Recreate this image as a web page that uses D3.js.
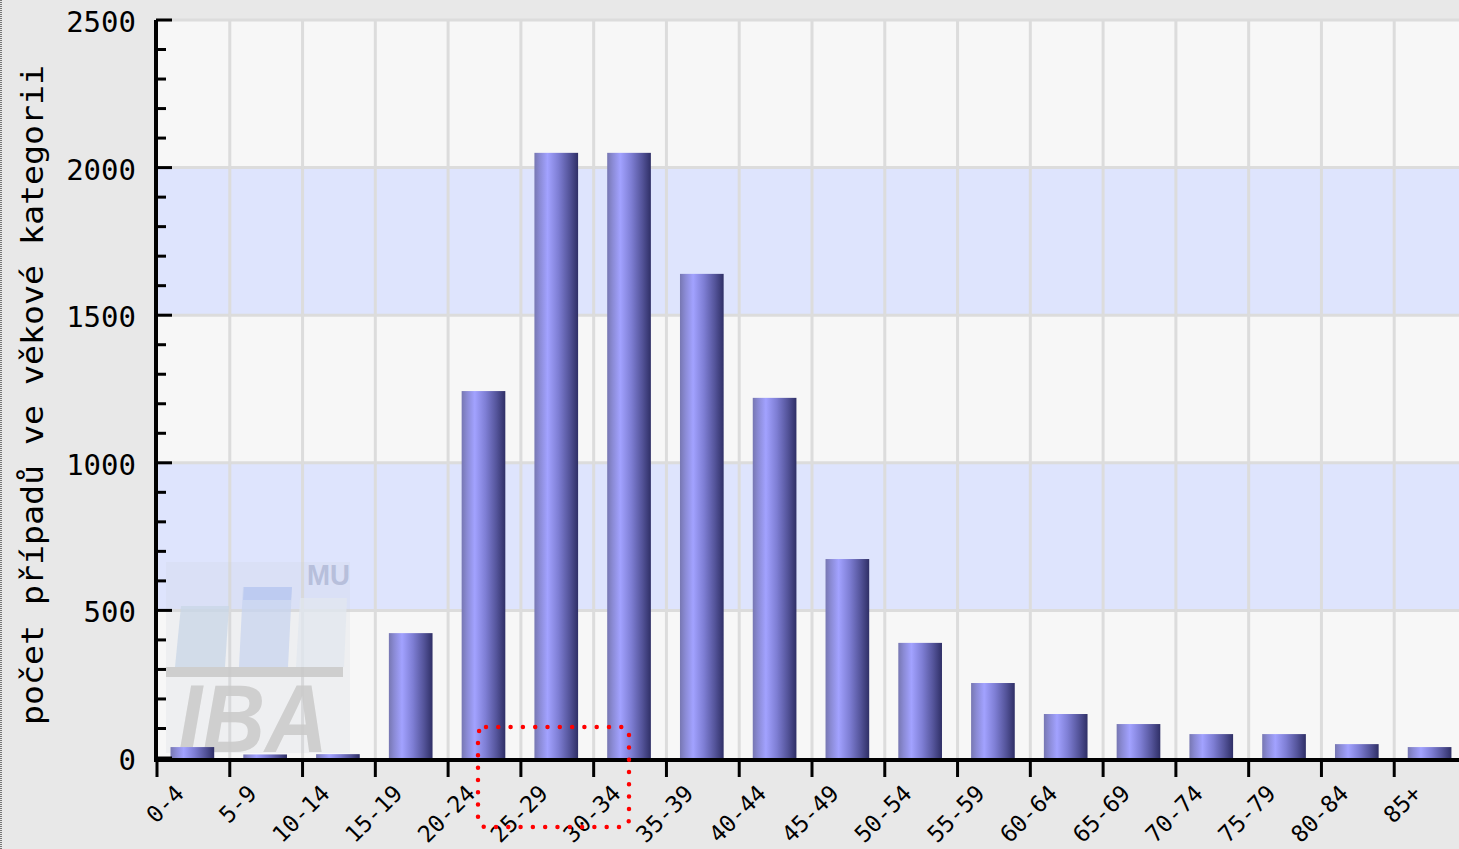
<!DOCTYPE html>
<html>
<head>
<meta charset="utf-8">
<script src="https://cdn.jsdelivr.net/npm/d3@7/dist/d3.min.js"></script>
<style>
  html, body { margin: 0; padding: 0; background: #e8e8e8; }
  svg { display: block; }
</style>
</head>
<body>
<svg id="chart" width="1459" height="849"></svg>
<script>
const categories = ["0-4","5-9","10-14","15-19","20-24","25-29","30-34","35-39","40-44","45-49","50-54","55-59","60-64","65-69","70-74","75-79","80-84","85+"];
const values = [37, 12, 13, 423, 1243, 2050, 2050, 1640, 1220, 674, 390, 254, 149, 115, 81, 81, 47, 37];
const yTicks = [0, 500, 1000, 1500, 2000, 2500];
const yMinorTicks = d3.range(0, 2501, 100);
const yTitle = "počet případů ve věkové kategorii";

(function () {
const svg = d3.select("#chart");
const W = 1459, H = 849;
const pLeft = 157, pTop = 20, pBottom = 758, pRight = 1467;

svg.append("rect").attr("width", W).attr("height", H).attr("fill", "#e8e8e8");
svg.append("line").attr("x1", 1).attr("x2", 1).attr("y1", 0).attr("y2", H)
  .attr("stroke", "#777").attr("stroke-width", 2).attr("stroke-dasharray", "1 1");

const x = d3.scaleBand().domain(categories).range([pLeft, pRight]).padding(0);
const y = d3.scaleLinear().domain([0, 2500]).range([pBottom, pTop]);

const defs = svg.append("defs");
const grad = defs.append("linearGradient").attr("id", "barGrad")
  .attr("x1", "0%").attr("x2", "100%").attr("y1", "0%").attr("y2", "0%");
[["0%", "#7777b2"], ["12%", "#8a8ad4"], ["30%", "#a2a2ff"], ["55%", "#7e7ed4"], ["80%", "#54549a"], ["100%", "#2f2f66"]]
  .forEach(s => grad.append("stop").attr("offset", s[0]).attr("stop-color", s[1]));

const plot = svg.append("g");
plot.append("rect").attr("x", pLeft).attr("y", pTop).attr("width", pRight - pLeft).attr("height", pBottom - pTop).attr("fill", "#f7f7f7");
for (let i = 0; i < yTicks.length - 1; i++) {
  if (i % 2 === 1) {
    plot.append("rect").attr("x", pLeft).attr("width", pRight - pLeft)
      .attr("y", y(yTicks[i + 1])).attr("height", y(yTicks[i]) - y(yTicks[i + 1]))
      .attr("fill", "#dee4fd");
  }
}
plot.selectAll(".hg").data(yTicks.slice(1)).enter().append("line")
  .attr("x1", pLeft).attr("x2", pRight).attr("y1", d => y(d)).attr("y2", d => y(d))
  .attr("stroke", "#dcdcdc").attr("stroke-width", 3);
plot.selectAll(".vg").data(categories.slice(1)).enter().append("line")
  .attr("x1", d => x(d)).attr("x2", d => x(d)).attr("y1", pTop).attr("y2", pBottom)
  .attr("stroke", "#dcdcdc").attr("stroke-width", 3);

// watermark logo
const logo = svg.append("g").attr("opacity", 0.9);
logo.append("rect").attr("x", 166).attr("y", 562).attr("width", 184).attr("height", 191).attr("fill", "#c8ccd8").attr("opacity", 0.18);
logo.append("path").attr("d", "M181,606 L229,606 L225,667 L175,667 Z").attr("fill", "#c9d6e6").attr("opacity", 0.85);
logo.append("path").attr("d", "M243,587 L292,587 L288,667 L239,667 Z").attr("fill", "#c8d3ef").attr("opacity", 0.85);
logo.append("path").attr("d", "M244,587 L292,587 L291,600 L243,600 Z").attr("fill", "#b8c8f0").attr("opacity", 0.9);
logo.append("path").attr("d", "M300,598 L347,598 L344,667 L296,667 Z").attr("fill", "#e2e6ee").attr("opacity", 0.85);
logo.append("rect").attr("x", 166).attr("y", 667).attr("width", 177).attr("height", 10).attr("fill", "#cacaca");
logo.append("text").attr("x", 178).attr("y", 752).text("IBA")
  .attr("font-family", "Liberation Sans, Arial, sans-serif").attr("font-weight", "bold").attr("font-style", "italic")
  .attr("font-size", 96).attr("fill", "#cbcbcb").attr("textLength", 150).attr("lengthAdjust", "spacingAndGlyphs");
logo.append("text").attr("x", 307).attr("y", 585).text("MU")
  .attr("font-family", "Liberation Sans, Arial, sans-serif").attr("font-weight", "bold")
  .attr("font-size", 30).attr("fill", "#b3bbd8").attr("textLength", 43).attr("lengthAdjust", "spacingAndGlyphs");

// bars
const bw = x.bandwidth();
svg.selectAll(".bar").data(values).enter().append("rect")
  .attr("x", (d, i) => x(categories[i]) + bw * 0.186)
  .attr("width", bw * 0.6)
  .attr("y", d => y(d))
  .attr("height", d => y(0) - y(d))
  .attr("fill", "url(#barGrad)");

// y axis
const ax = svg.append("g");
ax.append("line").attr("x1", 156).attr("x2", 156).attr("y1", pTop).attr("y2", pBottom + 4).attr("stroke", "#000").attr("stroke-width", 4);
ax.selectAll(".mt").data(yMinorTicks).enter().append("line")
  .attr("x1", 156).attr("x2", d => d % 500 === 0 ? 172 : 166)
  .attr("y1", d => y(d)).attr("y2", d => y(d))
  .attr("stroke", "#000").attr("stroke-width", 3);
ax.selectAll(".yl").data(yTicks).enter().append("text")
  .attr("x", 136).attr("y", d => y(d) + 12)
  .attr("text-anchor", "end")
  .attr("font-family", "DejaVu Sans Mono, monospace").attr("font-size", 29)
  .attr("fill", "#000").text(d => d);

// y title
svg.append("text")
  .attr("transform", "translate(43,395) rotate(-90)")
  .attr("text-anchor", "middle")
  .attr("font-family", "DejaVu Sans Mono, monospace").attr("font-size", 31)
  .attr("textLength", 660).attr("lengthAdjust", "spacingAndGlyphs")
  .attr("fill", "#000").text(yTitle);

// x axis
const xa = svg.append("g");
xa.append("line").attr("x1", 154).attr("x2", pRight).attr("y1", 760).attr("y2", 760).attr("stroke", "#000").attr("stroke-width", 4);
xa.selectAll(".xt").data(categories).enter().append("line")
  .attr("x1", d => x(d)).attr("x2", d => x(d)).attr("y1", 760).attr("y2", 777)
  .attr("stroke", "#000").attr("stroke-width", 3);
xa.selectAll(".xl").data(categories).enter().append("text")
  .attr("transform", d => `translate(${x(d) + bw / 2 - 8},795) rotate(-45)`)
  .attr("text-anchor", "end")
  .attr("font-family", "DejaVu Sans Mono, monospace").attr("font-size", 23)
  .attr("fill", "#000").text(d => d);

// red dotted annotation box
svg.append("rect").attr("x", 478).attr("y", 727).attr("width", 151).attr("height", 100)
  .attr("rx", 8).attr("ry", 8)
  .attr("fill", "none").attr("stroke", "#ff0000").attr("stroke-width", 4.5)
  .attr("stroke-linecap", "round").attr("stroke-dasharray", "0 12.3");
})();
</script>
</body>
</html>
